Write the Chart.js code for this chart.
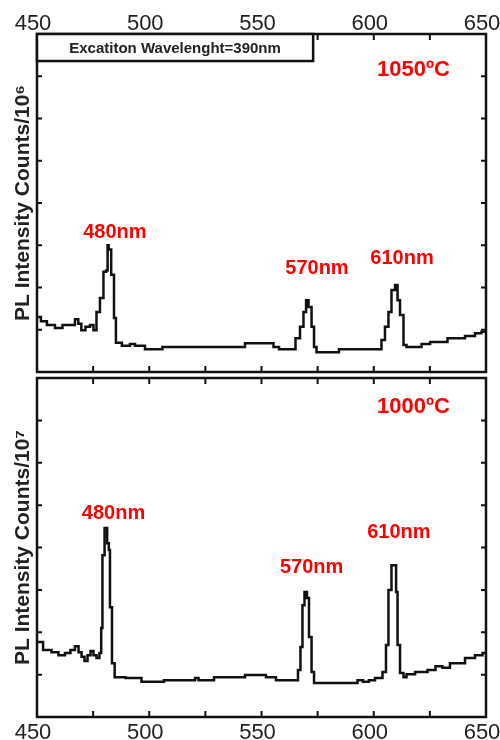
<!DOCTYPE html>
<html>
<head>
<meta charset="utf-8">
<script src="https://cdn.jsdelivr.net/npm/chart.js@4.4.1/dist/chart.umd.min.js"></script>
<style>
  body { margin: 0; background: #fff; }
  .panel { position: absolute; left: 0; }
</style>
</head>
<body>
<div class="panel" style="top:0"><canvas id="top" width="500" height="375"></canvas></div>
<div class="panel" style="top:375px"><canvas id="bottom" width="500" height="365"></canvas></div>
<script>
// wavelength (nm) and PL intensity, 1050 ºC sample (x10^6 counts)
const nmTop = [450.5, 453.0, 455.8, 460.2, 462.5, 466.0, 467.8, 469.0, 470.5, 472.7,
  474.5, 475.8, 477.2, 478.9, 480.3, 481.3, 481.6, 482.2, 483.9, 484.7,
  485.6, 490.0, 492.8, 494.5, 501.7, 510.0, 541.8, 543.5, 554.7, 556.0,
  559.6, 564.0, 566.3, 568.0, 569.4, 570.3, 571.6, 573.0, 573.8, 575.2,
  584.0, 585.0, 602.8, 604.1, 605.9, 607.2, 608.6, 610.4, 610.8, 612.6,
  613.9, 615.3, 620.6, 622.0, 628.2, 637.5, 643.8, 646.4, 649.5];
const valTop = [1.30, 1.20, 1.11, 1.04, 1.11, 1.11, 1.25, 1.14, 0.99, 1.07,
  1.11, 0.99, 1.42, 1.75, 2.37, 2.40, 3.00, 2.90, 2.30, 1.28,
  0.69, 0.62, 0.66, 0.62, 0.54, 0.59, 0.59, 0.68, 0.68, 0.59,
  0.54, 0.54, 0.80, 1.07, 1.42, 1.70, 1.54, 1.07, 0.59, 0.47,
  0.47, 0.54, 0.54, 0.76, 1.07, 1.42, 1.94, 2.06, 1.70, 1.35,
  0.64, 0.59, 0.59, 0.66, 0.71, 0.80, 0.85, 0.92, 0.95];

// 1000 ºC sample (x10^7 counts)
const nmBottom = [450.5, 454.9, 458.0, 461.1, 463.8, 466.0, 467.8, 469.2, 470.5, 471.8,
  473.2, 474.5, 475.8, 477.2, 478.4, 478.8, 479.5, 480.7, 481.8, 482.2,
  482.8, 484.0, 485.2, 493.7, 499.4, 506.1, 507.0, 519.5, 521.3, 522.6,
  528.4, 529.3, 541.8, 543.5, 550.2, 553.8, 559.1, 565.8, 566.7, 568.0,
  568.5, 569.8, 570.7, 571.6, 573.0, 573.8, 592.5, 593.0, 597.4, 598.3,
  602.8, 605.0, 605.9, 607.2, 608.6, 609.5, 610.4, 610.8, 612.6, 613.9,
  615.3, 621.5, 626.4, 628.6, 632.6, 635.3, 638.4, 642.9, 647.3, 649.6];
const valBottom = [1.77, 1.58, 1.53, 1.46, 1.51, 1.58, 1.67, 1.53, 1.42, 1.32,
  1.46, 1.56, 1.46, 1.39, 1.51, 2.10, 3.82, 4.46, 4.10, 3.94,
  2.59, 1.27, 0.94, 0.92, 0.83, 0.83, 0.87, 0.87, 0.92, 0.87,
  0.87, 0.94, 0.94, 0.99, 0.99, 0.94, 0.87, 0.87, 1.11, 1.65,
  2.64, 2.95, 2.81, 1.89, 1.06, 0.80, 0.80, 0.87, 0.83, 0.87,
  0.92, 1.06, 1.70, 3.00, 3.58, 3.58, 2.95, 1.70, 1.04, 0.94,
  1.01, 1.06, 1.11, 1.20, 1.16, 1.27, 1.27, 1.39, 1.46, 1.51];

const xTicks = [450, 500, 550, 600, 650];
const peakNames = ['480nm', '570nm', '610nm'];

const FONT = "'Liberation Sans', Arial, sans-serif";

// frame, inward ticks and the red notes
const framePlugin = {
  id: 'frame',
  afterDatasetsDraw(chart, args, opts) {
    const { ctx, chartArea: a, scales: { x, y } } = chart;
    ctx.save();
    ctx.strokeStyle = '#111';
    ctx.lineWidth = 2;
    for (let v = 475; v < 650; v += 25) {
      const px = x.getPixelForValue(v);
      ctx.beginPath();
      ctx.moveTo(px, a.top); ctx.lineTo(px, a.top + 6);
      ctx.moveTo(px, a.bottom); ctx.lineTo(px, a.bottom - 6);
      ctx.stroke();
    }
    for (let v = 1; v < 8; v++) {
      const py = y.getPixelForValue(v);
      ctx.beginPath();
      ctx.moveTo(a.left, py); ctx.lineTo(a.left + 5, py);
      ctx.moveTo(a.right, py); ctx.lineTo(a.right - 5, py);
      ctx.stroke();
    }
    ctx.lineWidth = 2.5;
    ctx.strokeRect(a.left, a.top, a.right - a.left, a.bottom - a.top);

    if (opts.box) {
      const x0 = x.getPixelForValue(opts.box.from), x1 = x.getPixelForValue(opts.box.to);
      const y1 = y.getPixelForValue(opts.box.down);
      ctx.fillStyle = '#fff';
      ctx.fillRect(x0, a.top, x1 - x0, y1 - a.top);
      ctx.strokeRect(x0, a.top, x1 - x0, y1 - a.top);
      ctx.fillStyle = '#222';
      ctx.font = 'bold 15px ' + FONT;
      ctx.textAlign = 'center';
      ctx.textBaseline = 'middle';
      ctx.fillText(opts.box.text, (x0 + x1) / 2, (a.top + y1) / 2 + 1);
    }

    ctx.fillStyle = '#ff0000';
    ctx.textAlign = 'center';
    ctx.textBaseline = 'middle';
    ctx.font = 'bold 22px ' + FONT;
    ctx.fillText(opts.temp.text, x.getPixelForValue(opts.temp.at[0]), y.getPixelForValue(opts.temp.at[1]));
    ctx.font = 'bold 20px ' + FONT;
    peakNames.forEach((name, i) => {
      const p = opts.peaks[i];
      ctx.fillText(name, x.getPixelForValue(p[0]), y.getPixelForValue(p[1]));
    });
    ctx.restore();
  }
};

function makeChart(id, nm, val, cfg) {
  return new Chart(document.getElementById(id), {
    type: 'line',
    data: {
      datasets: [{
        data: nm.map((w, i) => ({ x: w, y: val[i] })),
        borderColor: '#111',
        borderWidth: 2.5,
        pointRadius: 0,
        stepped: 'middle',
      }]
    },
    options: {
      responsive: false,
      animation: false,
      layout: { padding: cfg.padding },
      scales: {
        x: {
          type: 'linear',
          position: cfg.xPos,
          min: 450,
          max: 650,
          afterBuildTicks: s => { s.ticks = xTicks.map(v => ({ value: v })); },
          ticks: { font: { family: FONT, size: 22 }, color: '#222', padding: cfg.tickPad, labelOffset: -4 },
          grid: { display: false, drawTicks: false },
          border: { display: false },
          afterFit: s => { s.height = cfg.xHeight; s.paddingLeft = 0; s.paddingRight = 0; }
        },
        y: {
          min: 0,
          max: 8,
          ticks: { display: false },
          grid: { display: false, drawTicks: false },
          border: { display: false },
          title: {
            display: true,
            text: cfg.yTitle,
            color: '#222',
            font: { family: FONT, size: 21, weight: 'bold' },
            padding: { top: 11, bottom: 0 }
          },
          afterFit: s => { s.width = 37; }
        }
      },
      plugins: {
        legend: { display: false },
        tooltip: { enabled: false },
        frame: cfg.notes
      }
    },
    plugins: [framePlugin]
  });
}

makeChart('top', nmTop, valTop, {
  xPos: 'top', xHeight: 34, tickPad: -3,
  padding: { left: 0, right: 14, top: 0, bottom: 3 },
  yTitle: 'PL Intensity Counts/10\u2076',
  notes: {
    box: { from: 450, to: 573, down: 7.36, text: 'Excatiton Wavelenght=390nm' },
    temp: { text: '1050ºC', at: [617.7, 7.15] },
    peaks: [[484.7, 3.31], [574.7, 2.46], [612.6, 2.68]]
  }
});

makeChart('bottom', nmBottom, valBottom, {
  xPos: 'bottom', xHeight: 23, tickPad: 3,
  padding: { left: 0, right: 14, top: 3, bottom: 0 },
  yTitle: 'PL Intensity Counts/10\u2077',
  notes: {
    temp: { text: '1000ºC', at: [617.7, 7.31] },
    peaks: [[484.1, 4.81], [572.3, 3.54], [611.2, 4.36]]
  }
});
</script>
</body>
</html>
